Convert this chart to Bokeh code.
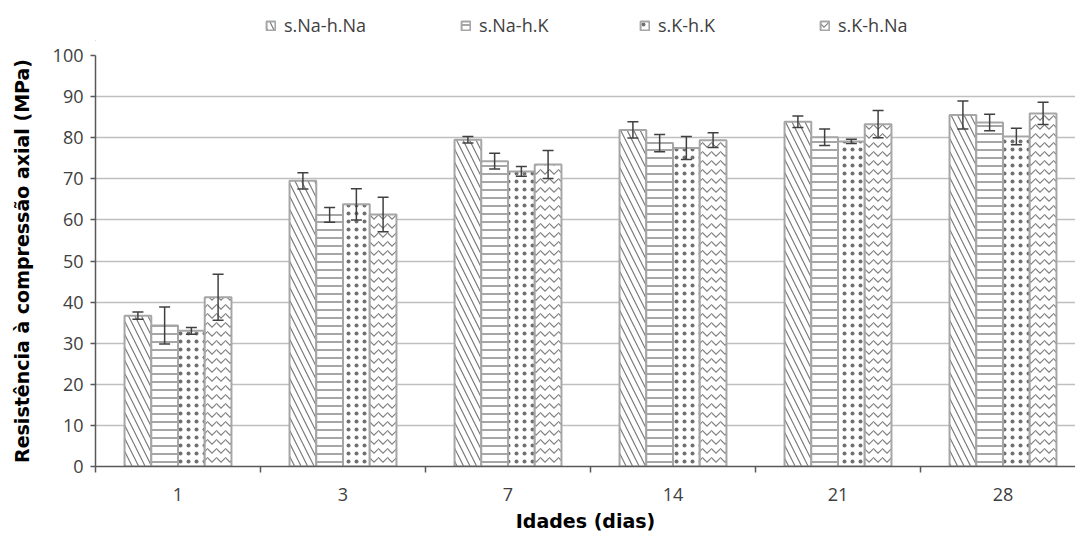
from bokeh.plotting import figure
from bokeh.layouts import column
from bokeh.models import ColumnDataSource, Whisker, FixedTicker, Legend, LegendItem, TeeHead
from bokeh.embed import file_html
from bokeh.resources import INLINE

categories = ["1", "3", "7", "14", "21", "28"]
series = ["s.Na-h.Na", "s.Na-h.K", "s.K-h.K", "s.K-h.Na"]

naNa = [36.7, 69.5, 79.5, 81.9, 83.9, 85.5]
naNa_err = [0.9, 2.0, 0.8, 2.0, 1.4, 3.4]
naK = [34.3, 61.2, 74.3, 78.7, 80.1, 83.7]
naK_err = [4.5, 1.8, 1.9, 2.1, 2.0, 2.0]
kK = [33.0, 63.8, 71.8, 77.5, 79.1, 80.3]
kK_err = [0.8, 3.8, 1.2, 2.8, 0.5, 2.0]
kNa = [41.2, 61.3, 73.5, 79.4, 83.3, 85.9]
kNa_err = [5.6, 4.2, 3.4, 1.8, 3.3, 2.7]

values = [naNa, naK, kK, kNa]
errors = [naNa_err, naK_err, kK_err, kNa_err]

y_ticks = list(range(0, 101, 10))
y_title = "Resistência à compressão axial (MPa)"
x_title = "Idades (dias)"

hatch_patterns = ["\\", "-", ".", "v"]
hatch_colors = ["#7a7a7a", "#6a6a6a", "#707070", "#808080"]
hatch_scales = [13, 8, 8, 9]

bar_w = 0.162
cat_px = 165.0
frame_px = 980

bar_style = [dict(fill_color="white", line_color="#a6a6a6", line_width=2,
                  hatch_pattern=hatch_patterns[j], hatch_color=hatch_colors[j],
                  hatch_scale=hatch_scales[j], hatch_weight=1.2) for j in range(4)]

# ---- main chart ----
p = figure(width=1075, height=493, output_backend="svg", toolbar_location=None,
           x_range=(0, frame_px / cat_px), y_range=(0, 100),
           min_border_left=95, min_border_right=0, min_border_top=14, min_border_bottom=67)
p.outline_line_color = None
p.xgrid.visible = False
p.ygrid.grid_line_color = "#bfbfbf"
p.ygrid.grid_line_width = 1.5
p.ygrid.ticker = FixedTicker(ticks=y_ticks)

for j, (vals, errs) in enumerate(zip(values, errors)):
    xs = [i + 0.5 + (j - 1.5) * bar_w for i in range(len(categories))]
    src = ColumnDataSource(dict(x=xs, top=vals,
                                upper=[v + e for v, e in zip(vals, errs)],
                                lower=[v - e for v, e in zip(vals, errs)]))
    p.vbar(x="x", top="top", bottom=0, width=bar_w, source=src, **bar_style[j])
    w = Whisker(base="x", upper="upper", lower="lower", source=src, level="overlay",
                line_color="#404040", line_width=1.5,
                upper_head=TeeHead(size=11, line_color="#404040", line_width=1.5),
                lower_head=TeeHead(size=11, line_color="#404040", line_width=1.5))
    p.add_layout(w)

xt = FixedTicker(ticks=[i + 0.5 for i in range(len(categories))],
                 minor_ticks=list(range(len(categories) + 1)))
p.xaxis.ticker = xt
p.xaxis.major_label_overrides = {i + 0.5: c for i, c in enumerate(categories)}
p.xaxis.major_tick_out = 0
p.xaxis.major_tick_in = 0
p.xaxis.minor_tick_out = 6
p.xaxis.minor_tick_in = 0
p.xaxis.minor_tick_line_color = "#595959"
p.xaxis.minor_tick_line_width = 1.5
p.xaxis.axis_line_color = "#595959"
p.xaxis.axis_line_width = 1.5
p.xaxis.major_label_standoff = 15
p.xaxis.axis_label = x_title
p.xaxis.axis_label_standoff = 6

p.yaxis.ticker = FixedTicker(ticks=y_ticks)
p.yaxis.bounds = (0, 100)
p.yaxis.major_tick_out = 5
p.yaxis.major_tick_in = 0
p.yaxis.minor_tick_line_color = None
p.yaxis.major_tick_line_color = "#595959"
p.yaxis.major_tick_line_width = 1.5
p.yaxis.axis_line_color = "#595959"
p.yaxis.axis_line_width = 1.5
p.yaxis.major_label_standoff = 7
p.yaxis.axis_label = y_title
p.yaxis.axis_label_standoff = 17

for ax in (p.xaxis, p.yaxis):
    ax.major_label_text_font = "Open Sans"
    ax.major_label_text_font_size = "18px"
    ax.major_label_text_color = "#404040"
    ax.axis_label_text_font = "DejaVu Sans"
    ax.axis_label_text_font_style = "bold"
    ax.axis_label_text_font_size = "19px"
    ax.axis_label_text_color = "#000000"

# ---- legend strip above the chart (frames are aligned by the column) ----
lp = figure(width=1075, height=41, output_backend="svg", toolbar_location=None,
            x_range=(0, 1), y_range=(0, 1), x_axis_type=None, y_axis_type=None,
            min_border=0)
lp.outline_line_color = None
lp.grid.visible = False
legend_x = [170, 365, 544, 724]
for j in range(4):
    # legend proxy: one bar placed outside the visible range, used only for the swatch
    r = lp.vbar(x=[-5], top=[0], width=0.1, **bar_style[j])
    lg = Legend(items=[LegendItem(label=series[j], renderers=[r])],
                location=(legend_x[j], 4), orientation="horizontal",
                padding=0, margin=0, border_line_color=None,
                background_fill_alpha=0, label_standoff=8,
                glyph_width=11, glyph_height=11,
                label_text_font="Open Sans", label_text_font_size="18px",
                label_text_color="#404040")
    lp.add_layout(lg, "center")

layout = column(lp, p, spacing=0)
open("out.html", "w").write(file_html(layout, INLINE))
